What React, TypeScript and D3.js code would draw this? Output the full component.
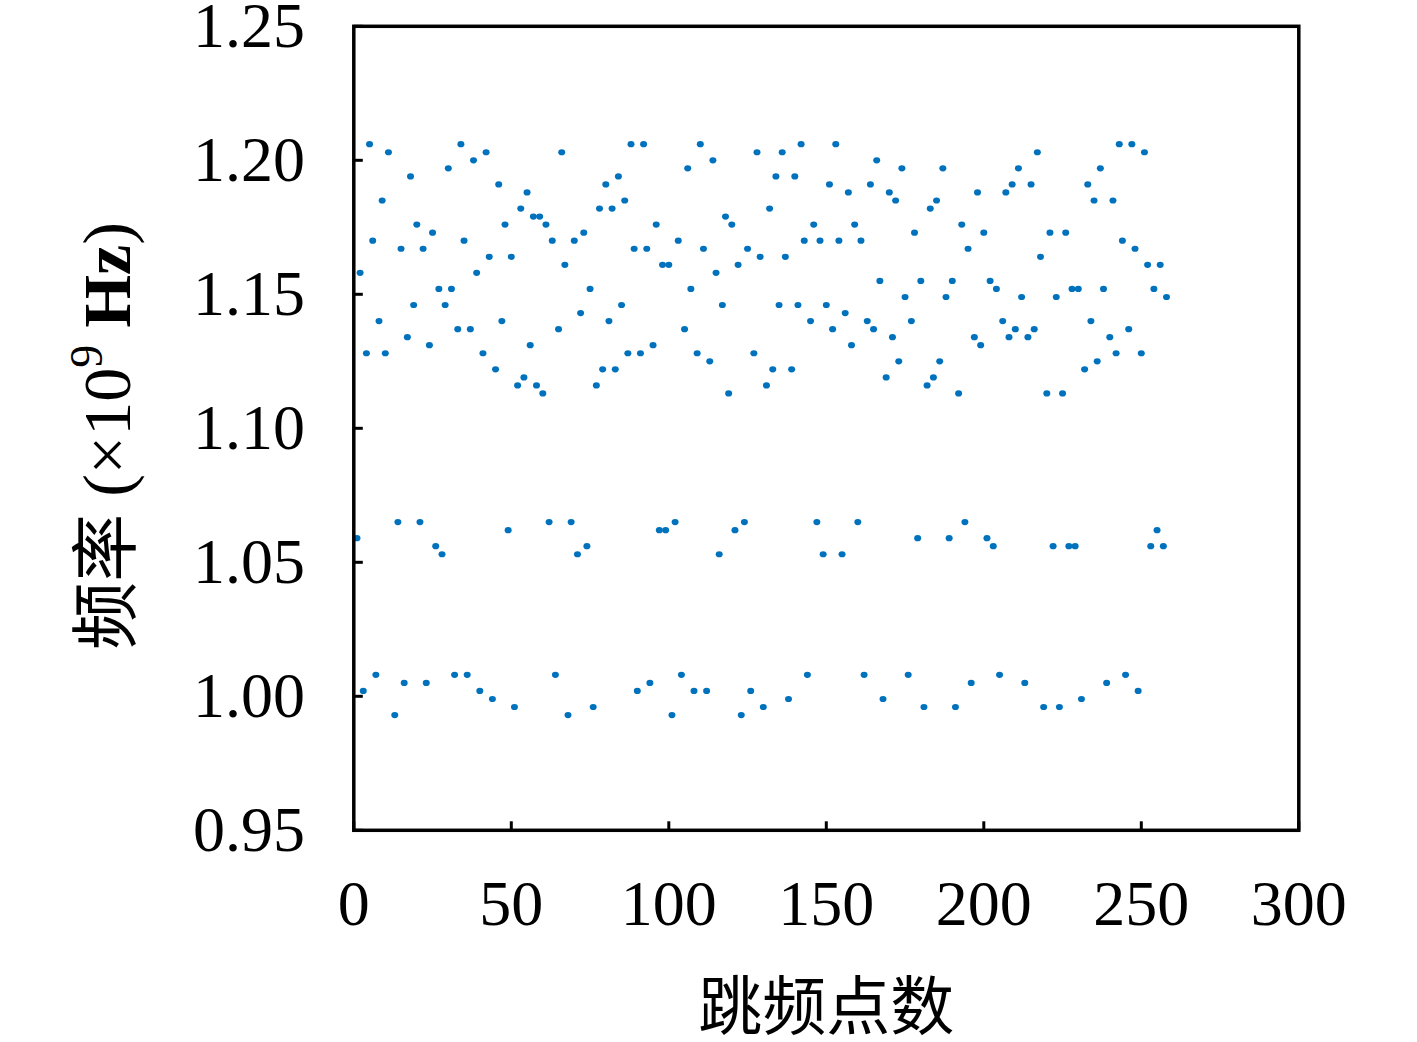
import React from "react";
import * as d3 from "d3";

// Hop frequencies (×10^9 Hz) for hop index 1..258 (null = no point)
const freqs: (number | null)[] = [
  1.059, 1.158, 1.002, 1.128, 1.206, 1.170, 1.008, 1.140, 1.185, 1.128,
  1.203, null, 0.993, 1.065, 1.167, 1.005, 1.134, 1.194, 1.146, 1.176,
  1.065, 1.167, 1.005, 1.131, 1.173, 1.056, 1.152, 1.053, 1.146, 1.197,
  1.152, 1.008, 1.137, 1.206, 1.170, 1.008, 1.137, 1.200, 1.158, 1.002,
  1.128, 1.203, 1.164, 0.999, 1.122, 1.191, 1.140, 1.176, 1.062, 1.164,
  0.996, 1.116, 1.182, 1.119, 1.188, 1.131, 1.179, 1.116, 1.179, 1.113,
  1.176, 1.065, 1.170, 1.008, 1.137, 1.203, 1.161, 0.993, 1.065, 1.170,
  1.053, 1.143, 1.173, 1.056, 1.152, 0.996, 1.116, 1.182, 1.122, 1.191,
  1.140, 1.182, 1.122, 1.194, 1.146, 1.185, 1.128, 1.206, 1.167, 1.002,
  1.128, 1.206, 1.167, 1.005, 1.131, 1.176, 1.062, 1.161, 1.062, 1.161,
  0.993, 1.065, 1.170, 1.008, 1.137, 1.197, 1.152, 1.002, 1.128, 1.206,
  1.167, 1.002, 1.125, 1.200, 1.158, 1.053, 1.146, 1.179, 1.113, 1.176,
  1.062, 1.161, 0.993, 1.065, 1.167, 1.002, 1.128, 1.203, 1.164, 0.996,
  1.116, 1.182, 1.122, 1.194, 1.146, 1.203, 1.164, 0.999, 1.122, 1.194,
  1.146, 1.206, 1.170, 1.008, 1.140, 1.176, 1.065, 1.170, 1.053, 1.146,
  1.191, 1.137, 1.206, 1.170, 1.053, 1.143, 1.188, 1.131, 1.176, 1.065,
  1.170, 1.008, 1.140, 1.191, 1.137, 1.200, 1.155, 0.999, 1.119, 1.188,
  1.134, 1.185, 1.125, 1.197, 1.149, 1.008, 1.140, 1.173, 1.059, 1.155,
  0.996, 1.116, 1.182, 1.119, 1.185, 1.125, 1.197, 1.149, 1.059, 1.155,
  0.996, 1.113, 1.176, 1.065, 1.167, 1.005, 1.134, 1.188, 1.131, 1.173,
  1.059, 1.155, 1.056, 1.152, 1.008, 1.140, 1.188, 1.134, 1.191, 1.137,
  1.197, 1.149, 1.005, 1.134, 1.191, 1.137, 1.203, 1.164, 0.996, 1.113,
  1.173, 1.056, 1.149, 0.996, 1.113, 1.173, 1.056, 1.152, 1.056, 1.152,
  0.999, 1.122, 1.191, 1.140, 1.185, 1.125, 1.197, 1.152, 1.005, 1.134,
  1.185, 1.128, 1.206, 1.170, 1.008, 1.137, 1.206, 1.167, 1.002, 1.128,
  1.203, 1.161, 1.056, 1.152, 1.062, 1.161, 1.056, 1.149,
];

const xTicks = [0, 50, 100, 150, 200, 250, 300];
const yTicks = [0.95, 1.0, 1.05, 1.1, 1.15, 1.2, 1.25];
const xLabel = "跳频点数";
const yLabelCJK = "频率";

export default function App() {
  const W = 1417;
  const H = 1042;
  const left = 353.8;
  const right = 1298.8;
  const top = 26.3;
  const bottom = 830.3;

  const x = d3.scaleLinear().domain([0, 300]).range([left, right]);
  const y = d3.scaleLinear().domain([0.95, 1.25]).range([bottom, top]);

  const points = freqs
    .map((v, i) => ({ idx: i + 1, v }))
    .filter((d) => d.v !== null) as { idx: number; v: number }[];

  const serif = "'Liberation Serif', 'Times New Roman', serif";
  const cjk = "'Noto Sans CJK SC', sans-serif";

  return (
    <svg
      width={W}
      height={H}
      style={{ position: "absolute", left: 0, top: 0, background: "#fff" }}
    >
      <rect x={0} y={0} width={W} height={H} fill="#fff" />
      {/* points */}
      <g fill="#0072BD">
        {points.map((d) => (
          <ellipse key={d.idx} cx={x(d.idx)} cy={y(d.v)} rx={3.5} ry={3.1} />
        ))}
      </g>
      {/* ticks */}
      <g stroke="#000" strokeWidth={3}>
        {xTicks.map((t) => (
          <line key={"xt" + t} x1={x(t)} x2={x(t)} y1={bottom} y2={bottom - 9} />
        ))}
        {yTicks.map((t) => (
          <line key={"yt" + t} x1={left} x2={left + 9} y1={y(t)} y2={y(t)} />
        ))}
      </g>
      {/* frame */}
      <rect
        x={left}
        y={top}
        width={right - left}
        height={bottom - top}
        fill="none"
        stroke="#000"
        strokeWidth={3.5}
      />
      {/* tick labels */}
      <g fontFamily={serif} fontSize={64} fill="#000">
        {xTicks.map((t) => (
          <text key={"xl" + t} x={x(t)} y={925} textAnchor="middle">
            {String(t)}
          </text>
        ))}
        {yTicks.map((t) => (
          <text key={"yl" + t} x={305} y={y(t) + 21} textAnchor="end">
            {t.toFixed(2)}
          </text>
        ))}
      </g>
      {/* x label */}
      <text
        x={(left + right) / 2}
        y={1029}
        textAnchor="middle"
        fontFamily={cjk}
        fontSize={64}
        fill="#000"
      >
        {xLabel}
      </text>
      {/* y label */}
      <text
        transform={`translate(130, 436) rotate(-90)`}
        textAnchor="middle"
        fontFamily={serif}
        fontSize={68}
        fill="#000"
      >
        <tspan fontFamily={cjk} fontSize={68}>
          {yLabelCJK}
        </tspan>
        <tspan> (×10</tspan>
        <tspan fontSize={46} dy={-28}>
          9
        </tspan>
        <tspan dy={28}> </tspan>
        <tspan fontWeight="bold">Hz</tspan>
        <tspan>)</tspan>
      </text>
    </svg>
  );
}
